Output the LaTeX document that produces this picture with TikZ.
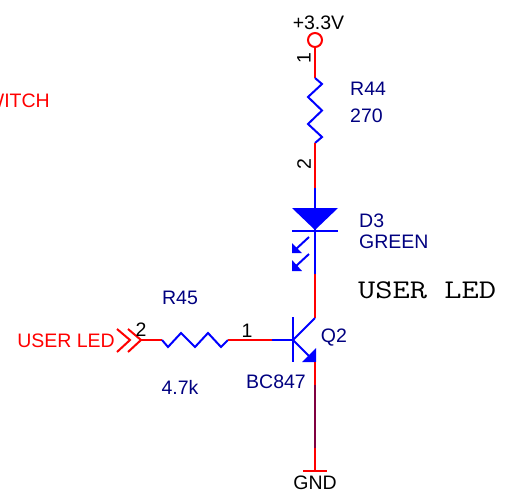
\documentclass[tikz,border=0pt]{standalone}
\usepackage{fontspec}
\setmainfont{Liberation Sans}
\begin{document}
\begin{tikzpicture}[x=1pt,y=-1pt,
  wire/.style={draw=red,line width=2pt},
  part/.style={draw=blue,line width=2pt},
  lab/.style={inner sep=0pt,yshift=-0.8pt,text=black,font=\fontsize{19.5}{21}\selectfont},
  val/.style={inner sep=0pt,yshift=-0.8pt,text=navy,font=\fontsize{19.5}{21}\selectfont},
  net/.style={inner sep=0pt,yshift=-0.8pt,text=red,font=\fontsize{19.5}{21}\selectfont}]
\definecolor{navy}{HTML}{000080}
\definecolor{plum}{HTML}{800040}
\useasboundingbox (0,0) rectangle (506,501);
% coordinates
\coordinate (vcc) at (315,46.5);
\coordinate (r44a) at (315,78);
\coordinate (r44b) at (315,143);
\coordinate (dA) at (315,188);
\coordinate (dK) at (315,274);
\coordinate (qC) at (315,318);
\coordinate (qB) at (293,340);
\coordinate (qE) at (315,362);
\coordinate (gA) at (315,385);
\coordinate (gB) at (315,448);
\coordinate (gnd) at (315,471);
\coordinate (r45a) at (141,340);
\coordinate (r45b) at (162,340);
\coordinate (r45c) at (228,340);
\coordinate (base) at (272,340);
% power symbol
\node[circle,draw=red,line width=2pt,minimum size=14pt,inner sep=0pt] (vccsym) at (315,40) {};
\draw[wire] (vccsym.south) -- (r44a);
% R44
\draw[part,line join=miter] (r44a) -- (322,84) -- (308,97) -- (322,110.5) -- (308,124) -- (322,137) -- (r44b);
\draw[wire] (r44b) -- (dA);
% diode
\draw[part] (dA) -- (dK);
\fill[blue] (292,208) -- (338,208) -- (315,230) -- cycle;
\draw[part] (292,230.5) -- (338,230.5);
\draw[part] (309,237) -- (295,250);
\fill[blue] (292,253) -- (292,243) -- (302,253) -- cycle;
\draw[part] (309,254) -- (295,267);
\fill[blue] (292,271) -- (292,260) -- (302,271) -- cycle;
\draw[wire] (dK) -- (qC);
% transistor
\draw[part] (qC) -- (qB);
\draw[part] (293,317) -- (293,362);
\draw[part] (base) -- (qB);
\draw[part] (qB) -- (310,357);
\fill[blue] (316,348) -- (316,362) -- (302,362) -- cycle;
\draw[wire] (qE) -- (gA);
\draw[draw=plum,line width=2pt] (gA) -- (gB);
\draw[wire] (gB) -- (gnd);
\draw[draw=red,line width=2pt] (303,471) -- (327,471);
% R45
\draw[wire] (r45a) -- (r45b);
\draw[part] (r45b) -- (168,347) -- (181,333) -- (195,347) -- (208,333) -- (221,347) -- (r45c);
\draw[wire] (r45c) -- (base);
% off-page connector
\draw[wire] (117,329) -- (130,340) -- (117,352);
\draw[wire] (128,329) -- (r45a) -- (128,352);
% text
\node[lab] (t33) at (318.5,22) {+3.3V};
\node[lab,rotate=90] (p1) at (304,57) {1};
\node[lab,rotate=90] (p2) at (304,163) {2};
\node[val,anchor=west] (r44) at (350,88) {R44};
\node[val,anchor=west] (v270) at (350,115) {270};
\node[val,anchor=west] (d3) at (359,220) {D3};
\node[val,anchor=west] (green) at (359,241) {GREEN};
\node[inner sep=0pt,anchor=west,text=black] (ul) at (358,290) {\scalebox{1.24}[1]{\fontsize{27}{30}\selectfont\ttfamily USER LED}};
\node[val] (r45) at (180,297) {R45};
\node[val] (v47) at (180,387) {4.7k};
\node[val] (q2) at (334,337) {Q2};
\node[val] (bc) at (276,381) {BC847};
\node[lab] (g) at (315,482) {GND};
\node[lab] (p2b) at (141,329) {2};
\node[lab] (p1b) at (247,330) {1};
\node[net,anchor=east] (ulnet) at (115,340) {USER LED};
\node[net,anchor=east] (sw) at (50,99.5) {WITCH};
\end{tikzpicture}
\end{document}
